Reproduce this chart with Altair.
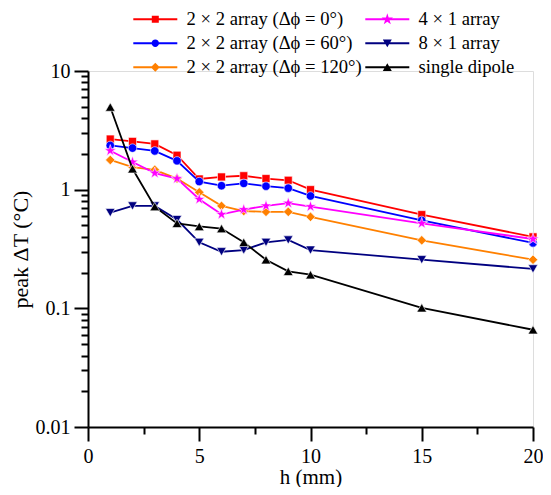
import altair as alt
import pandas as pd

# ---- data ----
h = [1, 2, 3, 4, 5, 6, 7, 8, 9, 10, 15, 20]
red_vals = [2.67, 2.55, 2.43, 1.95, 1.23, 1.28, 1.31, 1.24, 1.20, 1.00, 0.616, 0.40]
blue_vals = [2.36, 2.24, 2.12, 1.75, 1.17, 1.08, 1.13, 1.07, 1.03, 0.885, 0.55, 0.356]
orange_vals = [1.78, 1.55, 1.47, 1.24, 0.95, 0.73, 0.66, 0.65, 0.65, 0.59, 0.374, 0.257]
magenta_vals = [2.13, 1.71, 1.38, 1.24, 0.83, 0.62, 0.68, 0.73, 0.77, 0.72, 0.52, 0.384]
navy_vals = [0.64, 0.73, 0.73, 0.56, 0.36, 0.30, 0.31, 0.36, 0.377, 0.31, 0.257, 0.215]
black_vals = [4.97, 1.50, 0.72, 0.52, 0.49, 0.47, 0.36, 0.257, 0.205, 0.192, 0.101, 0.066]

series_names = [
    "2 × 2 array (Δϕ = 0°)",
    "2 × 2 array (Δϕ = 60°)",
    "2 × 2 array (Δϕ = 120°)",
    "4 × 1 array",
    "8 × 1 array",
    "single dipole",
]
series_values = [red_vals, blue_vals, orange_vals, magenta_vals, navy_vals, black_vals]
series_colors = ["#FF0000", "#0000FF", "#FF8000", "#FF00FF", "#000080", "#000000"]

x_ticks = [0, 2.5, 5, 7.5, 10, 12.5, 15, 17.5, 20]
y_ticks = [0.01, 0.02, 0.03, 0.04, 0.05, 0.06, 0.07, 0.08, 0.09,
           0.1, 0.2, 0.3, 0.4, 0.5, 0.6, 0.7, 0.8, 0.9,
           1, 2, 3, 4, 5, 6, 7, 8, 9, 10]

STAR = ("M0,-1L0.2245,-0.309L0.951,-0.309L0.363,0.118L0.588,0.809"
        "L0,0.382L-0.588,0.809L-0.363,0.118L-0.951,-0.309L-0.2245,-0.309Z")
plot_shapes = ["square", "circle", "diamond", STAR, "triangle-down", "triangle-up"]
plot_sizes = [64, 72, 90, 150, 90, 95]

LINE = "M-4.4,-0.2H4.4V0.2H-4.4Z"
legend_markers = [
    "M-0.7,-0.7H0.7V0.7H-0.7Z",
    "M0.74,0A0.74,0.74 0 1,1 -0.74,0A0.74,0.74 0 1,1 0.74,0Z",
    "M-0.9,0L0,-0.9L0.9,0L0,0.9Z",
    "M0,-1.2L0.269,-0.371L1.141,-0.371L0.436,0.142L0.706,0.971"
    "L0,0.458L-0.706,0.971L-0.436,0.142L-1.141,-0.371L-0.269,-0.371Z",
    "M0,0.8L-0.9,-0.75L0.9,-0.75Z",
    "M0,-0.8L0.9,0.75L-0.9,0.75Z",
]
legend_paths = [LINE + m for m in legend_markers]

rows = []
for name, vals in zip(series_names, series_values):
    for xv, yv in zip(h, vals):
        rows.append({"series": name, "h": xv, "T": yv})
df = pd.DataFrame(rows)

FONT = "Liberation Serif"

x_axis = alt.Axis(
    values=x_ticks,
    labelExpr="datum.value % 5 == 0 ? format(datum.value, 'd') : ''",
    tickSize={"condition": {"test": "datum.value % 5 == 0", "value": 14}, "value": 7},
    tickWidth=2, domainWidth=2, domainColor="black", tickColor="black",
    labelFont=FONT, labelFontSize=20, labelColor="black", labelPadding=5,
    labelFlush=False, labelOverlap=False, grid=False,
    title="h (mm)", titleFont=FONT, titleFontSize=21, titleFontWeight="normal",
    titleColor="black", titlePadding=0,
)
major_test = "abs(log(datum.value)/LN10 - round(log(datum.value)/LN10)) < 1e-6"
y_axis = alt.Axis(
    values=y_ticks,
    labelExpr=f"{major_test} ? format(datum.value, '~g') : ''",
    tickSize={"condition": {"test": major_test, "value": 14}, "value": 7},
    tickWidth=2, domainWidth=2, domainColor="black", tickColor="black",
    labelFont=FONT, labelFontSize=20, labelColor="black", labelPadding=4,
    labelFlush=False, labelOverlap=False, grid=False,
    title="peak ΔT (°C)", titleFont=FONT, titleFontSize=22, titleFontWeight="normal",
    titleColor="black", titleX=-56,
)

x_enc = alt.X("h:Q", scale=alt.Scale(domain=[0, 20], nice=False, zero=False), axis=x_axis)
y_enc = alt.Y("T:Q", scale=alt.Scale(type="log", domain=[0.01, 10], nice=False), axis=y_axis)

layers = []
for name, col, shp, sz in zip(series_names, series_colors, plot_shapes, plot_sizes):
    sub = alt.Chart(df).transform_filter(alt.datum.series == name)
    layers.append(sub.mark_line(strokeWidth=1.8, color=col).encode(x=x_enc, y=y_enc))
    layers.append(sub.mark_point(filled=True, shape=shp, size=sz, fill=col, opacity=1,
                                 stroke="white", strokeWidth=0.6).encode(x=x_enc, y=y_enc))

leg = alt.Legend(orient="none", legendX=58, legendY=-61, columns=2, title=None)
legend_layer = alt.Chart(df).mark_point(filled=True, opacity=0).encode(
    x=x_enc, y=y_enc,
    color=alt.Color("series:N", scale=alt.Scale(domain=series_names, range=series_colors), legend=leg),
    shape=alt.Shape("series:N", scale=alt.Scale(domain=series_names, range=legend_paths), legend=leg),
)
layers.append(legend_layer)

chart = alt.layer(*layers).properties(
    width=445, height=356,
    autosize=alt.AutoSizeParams(type="none"),
    padding={"left": 80, "top": 63, "right": 10, "bottom": 60},
).configure_view(stroke=None).configure(background="white").configure_legend(
    labelFont=FONT, labelFontSize=18.6, labelColor="black", labelLimit=400,
    symbolSize=100, symbolStrokeWidth=0, symbolOpacity=1,
    labelOffset=22, columnPadding=3, rowPadding=5, padding=0,
)

chart.save("out.html", embed_options={"renderer": "svg", "actions": False})
